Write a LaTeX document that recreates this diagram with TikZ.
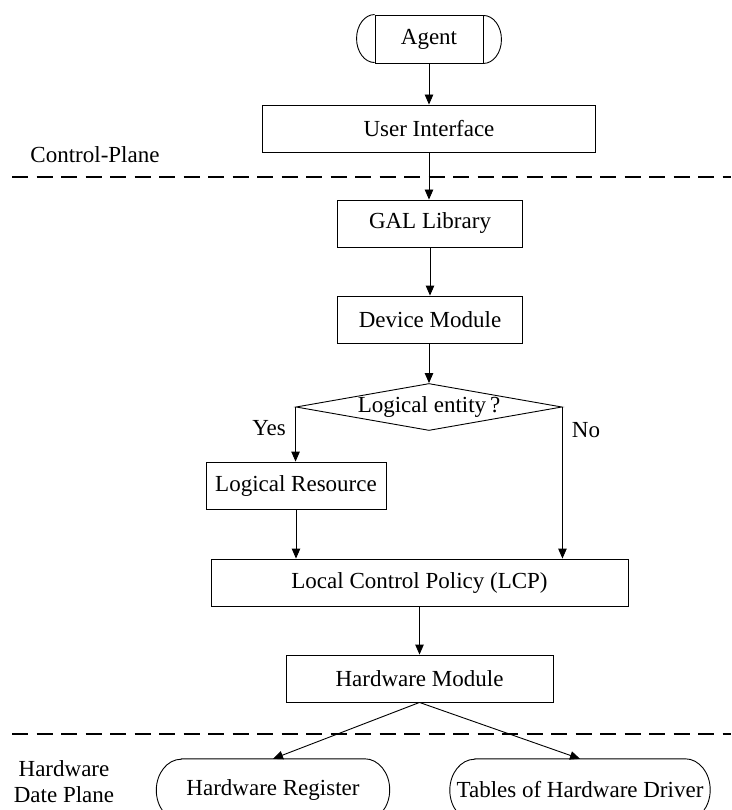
\documentclass[tikz,border=0pt]{standalone}
\usepackage{fontspec}
\setmainfont{Liberation Serif}
\usetikzlibrary{arrows.meta,shapes.geometric,calc}
\begin{document}
\begin{tikzpicture}[x=1pt,y=-1pt,
  every node/.style={font=\fontsize{23}{27}\selectfont},
  stepbox/.style={draw, line width=0.9pt, minimum height=47, inner sep=0pt},
  capbox/.style={draw=none, minimum height=62, inner sep=0pt},
  outline/.style={line width=0.9pt},
  flow/.style={line width=0.9pt, -{Triangle[length=10pt,width=8.5pt]}},
  planeline/.style={line width=2.5pt, dash pattern=on 16pt off 8.5pt}
]
\useasboundingbox (0,0) rectangle (731,810);

% nodes
\node[stepbox, minimum width=108, minimum height=48] (agent) at (429,39) {Agent};
\draw[outline] (agent.north west) arc[start angle=90,end angle=270,x radius=18pt,y radius=24pt];
\draw[outline] (agent.south east) arc[start angle=-90,end angle=90,x radius=18pt,y radius=24pt];

\node[stepbox, minimum width=333] (ui) at (429,128.5) {User Interface};
\node[stepbox, minimum width=185] (gal) at (430,223.5) {GAL Library};
\node[stepbox, minimum width=185] (dev) at (430,319.5) {Device Module};
\node[draw, line width=0.9pt, shape=diamond, aspect=5.66, inner sep=0pt,
      minimum width=266, minimum height=47] (dia) at (429,407) {Logical entity\,?};
\node[stepbox, minimum width=180] (lr) at (296,485.5) {Logical Resource};
\node[stepbox, minimum width=417] (lcp) at (419.5,582.5) {Local Control Policy (LCP)};
\node[stepbox, minimum width=267] (hm) at (419.5,678.5) {Hardware Module};

\node[capbox, minimum width=233] (hr) at (273,790) {Hardware Register};
\draw[outline] ($(hr.north west)+(25,0)$) -- ($(hr.north east)+(-25,0)$)
  arc[start angle=90,end angle=-90,x radius=25pt,y radius=31pt]
  -- ($(hr.south west)+(25,0)$)
  arc[start angle=270,end angle=90,x radius=25pt,y radius=31pt] -- cycle;

\node[capbox, minimum width=260] (tab) at (580,790) {Tables of Hardware Driver};
\draw[outline] ($(tab.north west)+(25,0)$) -- ($(tab.north east)+(-25,0)$)
  arc[start angle=90,end angle=-90,x radius=25pt,y radius=31pt]
  -- ($(tab.south west)+(25,0)$)
  arc[start angle=270,end angle=90,x radius=25pt,y radius=31pt] -- cycle;

% labels
\node (cp) at (95,155) {Control-Plane};
\node[align=center, font=\fontsize{23}{26}\selectfont] (hdp) at (64,782) {Hardware\\Date Plane};
\node (yes) at (269,428) {Yes};
\node (no) at (586,430) {No};

% plane separators
\coordinate (d1a) at (12,177);
\coordinate (d1b) at (731,177);
\coordinate (d2a) at (12,734);
\coordinate (d2b) at (731,734);
\draw[planeline] (d1a) -- (d1b);
\draw[planeline] (d2a) -- (d2b);

% connectors
\draw[flow] (agent.south) -- (agent.south |- ui.north);
\draw[flow] (ui.south) -- (ui.south |- gal.north);
\draw[flow] (gal.south) -- (dev.north);
\draw[flow] (dia.north |- dev.south) -- (dia.north);
\draw[flow] (dia.west) -- (dia.west |- lr.north);
\draw[flow] (dia.east) -- (dia.east |- lcp.north);
\draw[flow] (lr.south) -- (lr.south |- lcp.north);
\draw[flow] (lcp.south) -- (hm.north);
\draw[flow] (hm.south) -- (hr.north);
\draw[flow] (hm.south) -- (tab.north);
\end{tikzpicture}
\end{document}
